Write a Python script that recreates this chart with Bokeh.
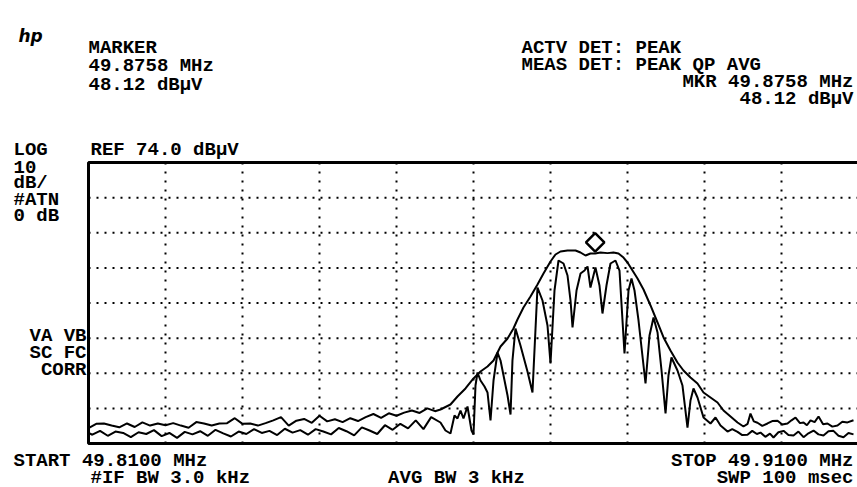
from bokeh.plotting import figure
from bokeh.models import Range1d, Label
from bokeh.embed import file_html
from bokeh.resources import INLINE

# ---------------- data ----------------
START_MHZ = 49.8100
STOP_MHZ = 49.9100
REF_DBUV = 74.0
DB_PER_DIV = 10.0
N_DIV_Y = 8
MKR_MHZ = 49.8758
MKR_DBUV = 48.12
IF_BW_KHZ = 3.0
AVG_BW_KHZ = 3
SWP_MSEC = 100

x_grid_mhz = [49.82, 49.83, 49.84, 49.85, 49.86, 49.87, 49.88, 49.89, 49.90]
y_grid_dbuv = [64, 54, 44, 34, 24, 14, 4]

# trace 1: peak detector (upper envelope)
peak_mhz = [
    49.810, 49.811, 49.812, 49.813, 49.814, 49.815, 49.816, 49.817, 49.818, 49.819,
    49.820, 49.821, 49.822, 49.823, 49.824, 49.825, 49.826, 49.827, 49.828, 49.829,
    49.830, 49.831, 49.832, 49.833, 49.834, 49.835, 49.836, 49.837, 49.838, 49.839,
    49.840, 49.841, 49.842, 49.843, 49.844, 49.845, 49.846, 49.847, 49.848, 49.849,
    49.850, 49.851, 49.852, 49.853, 49.854, 49.855,
    49.85571, 49.85701, 49.85792, 49.85896, 49.86000, 49.86091, 49.86182, 49.86260,
    49.86351, 49.86442, 49.86519, 49.86571, 49.86649, 49.86740, 49.86831, 49.86909,
    49.87000, 49.87065, 49.87130, 49.87221, 49.87325, 49.87390, 49.87455, 49.87519,
    49.87580, 49.87649, 49.87740, 49.87818, 49.87883, 49.87948, 49.88000, 49.88065,
    49.88130, 49.88208, 49.88299, 49.88390, 49.88468, 49.88558, 49.88649, 49.88727,
    49.88818, 49.88909, 49.88987, 49.89078, 49.89169, 49.89247, 49.89338, 49.89429,
    49.89506, 49.89560, 49.89597, 49.89640, 49.89688, 49.89750, 49.89818, 49.89880,
    49.89948, 49.90010, 49.90078, 49.90130, 49.90182, 49.90240, 49.90286, 49.90330,
    49.90377, 49.90430, 49.90481, 49.90540, 49.90597, 49.90660, 49.90727, 49.90790,
    49.90857, 49.90935,
]
peak_dbuv = [
    -1.6, -0.4, -0.3, -0.9, -1.4, -0.3, -1.3, 0.0, -0.9, -0.3,
    -0.8, -0.2, -0.9, -1.5, 0.1, -0.3, -0.9, -0.3, -0.2, 1.2,
    -0.4, -0.3, -0.9, -0.2, 0.6, 1.5, -0.9, 0.5, 1.0, -0.1,
    1.9, 0.3, 0.9, 0.1, 1.2, 0.4, 1.5, 2.4, 1.3, 2.6,
    1.9, 2.8, 3.4, 2.7, 4.0, 3.2,
    3.68, 5.10, 7.38, 9.66, 12.51, 14.50, 15.92, 17.63,
    21.62, 23.89, 26.74, 29.30, 32.72, 35.85, 39.27, 42.40,
    45.81, 47.81, 48.66, 48.95, 48.95, 48.38, 47.52, 48.09,
    48.12, 48.38, 48.20, 48.38, 48.09, 46.95, 45.53, 43.25,
    40.97, 37.84, 33.29, 28.45, 24.18, 20.48, 17.06, 14.78,
    12.79, 11.08, 8.52, 7.10, 5.67, 3.40, 1.69, -0.02,
    -1.16, -0.4, 2.5, 0.3, -0.1, -1.0, -0.3, 0.4,
    0.5, -0.6, -0.3, 0.6, 1.4, -0.2, 0.0, -0.8,
    0.6, 0.1, 1.7, -0.5, -0.3, -1.2, -0.9, 0.2,
    0.0, 0.6,
]

# trace 2: quasi-peak / average detector (notched trace)
qp_mhz = [
    49.8100, 49.8105, 49.8115, 49.8125, 49.8135, 49.8145, 49.8155, 49.8165, 49.8175,
    49.8185, 49.8195, 49.8205, 49.8215, 49.8225, 49.8235, 49.8245, 49.8255, 49.8265,
    49.8275, 49.8285, 49.8295, 49.8305, 49.8315, 49.8325, 49.8335, 49.8345, 49.8355,
    49.8365, 49.8375, 49.8385, 49.8395, 49.8405, 49.8415, 49.8425, 49.8435, 49.8445,
    49.8455, 49.8465, 49.8475, 49.8485, 49.8495, 49.8505, 49.8515, 49.8525, 49.8535,
    49.8545,
    49.85571, 49.85636, 49.85701, 49.85753, 49.85792, 49.85831, 49.85870, 49.85922,
    49.85974, 49.86000, 49.86026, 49.86052, 49.86091, 49.86143, 49.86182, 49.86221,
    49.86260, 49.86312, 49.86351, 49.86390, 49.86442, 49.86481, 49.86506, 49.86545,
    49.86610, 49.86701, 49.86766, 49.86831, 49.86896, 49.86961, 49.87000, 49.87052,
    49.87104, 49.87169, 49.87221, 49.87260, 49.87286, 49.87338, 49.87390, 49.87442,
    49.87481, 49.87519, 49.87584, 49.87636, 49.87675, 49.87727, 49.87779, 49.87844,
    49.87896, 49.87961, 49.88013, 49.88052, 49.88091, 49.88143, 49.88234, 49.88286,
    49.88338, 49.88390, 49.88442, 49.88494, 49.88532, 49.88571, 49.88649, 49.88714,
    49.88779, 49.88818, 49.88857, 49.88909, 49.88987, 49.89078, 49.89143, 49.89208,
    49.89299, 49.89360, 49.89429, 49.89490, 49.89558, 49.89620, 49.89680, 49.89727,
    49.89790, 49.89850, 49.89896, 49.89960, 49.90026, 49.90090, 49.90156, 49.90220,
    49.90286, 49.90350, 49.90416, 49.90480, 49.90545, 49.90610, 49.90675, 49.90740,
    49.90805, 49.90870, 49.90935,
]
qp_dbuv = [
    -3.0, -3.5, -2.4, -3.8, -2.6, -3.0, -4.2, -2.8, -3.3,
    -2.2, -3.9, -3.0, -4.4, -2.7, -3.4, -2.5, -3.8, -2.1,
    -3.1, -4.0, -2.6, -3.3, -1.9, -3.0, -2.4, -3.6, -1.8,
    -2.9, -2.2, -3.5, -1.9, -2.6, -3.4, -1.6, -2.5, -3.7,
    -1.4, -2.3, -3.3, -0.8, -2.1, -0.4, -1.7, 0.6, -1.9,
    1.5,
    -0.02, -2.30, -3.15, 1.97, 1.12, 3.40, 1.12, 4.53,
    -2.30, -3.44, 10.51, 14.21, 11.94, 10.23, 8.52, 0.55,
    11.94, 19.91, 17.63, 13.36, 7.67, 2.26, 17.63, 26.74,
    21.90, 14.50, 8.52, 38.41, 34.71, 27.59, 16.78, 37.56,
    46.10, 45.25, 41.83, 34.71, 27.02, 37.56, 42.40, 43.25,
    44.39, 38.41, 44.11, 38.98, 31.01, 38.98, 45.25, 46.10,
    43.25, 19.62, 37.56, 40.97, 37.56, 29.02, 11.08, 24.75,
    29.87, 25.60, 14.78, 2.54, 13.36, 18.48, 14.78, 10.51,
    -1.45, 6.24, 9.66, 7.10, 1.40, -0.31, 1.40, -0.88,
    -2.6, -1.9, -2.7, -3.6, -3.5, -2.4, -3.3, -2.9,
    -4.1, -3.2, -4.3, -2.8, -2.4, -3.6, -3.7, -2.6,
    -4.2, -3.1, -2.3, -3.4, -3.7, -2.5, -2.4, -3.8,
    -4.2, -3.0, -3.4,
]

# ---------------- layout / style ----------------
FIG_W, FIG_H = 857, 487
BOX_LEFT_PX, BOX_TOP_PX = 88, 162          # screen position of the graticule
PX_PER_MHZ = 7700.0                         # 77 px per 10 kHz division
PX_PER_DB = 3.5125                          # 35.1 px per 10 dB division
Y_BOTTOM = REF_DBUV - N_DIV_Y * DB_PER_DIV
MARKER_LIFT_PX = 11
FONT = "Liberation Mono"
FS = "19px"


def to_mhz(X):
    return START_MHZ + (X - BOX_LEFT_PX) / PX_PER_MHZ


def to_db(Y):
    return REF_DBUV - (Y - BOX_TOP_PX) / PX_PER_DB


p = figure(width=FIG_W, height=FIG_H, output_backend="svg", toolbar_location=None,
           x_range=Range1d(to_mhz(0), to_mhz(FIG_W)),
           y_range=Range1d(to_db(FIG_H), to_db(0)),
           min_border=0, min_border_left=0, min_border_right=0,
           min_border_top=0, min_border_bottom=0)
p.xaxis.visible = False
p.yaxis.visible = False
p.grid.visible = False
p.outline_line_color = None
p.background_fill_color = "white"
p.border_fill_color = "white"

# graticule (dotted) and frame
p.segment(x0=x_grid_mhz, x1=x_grid_mhz, y0=[Y_BOTTOM] * len(x_grid_mhz),
          y1=[REF_DBUV] * len(x_grid_mhz), line_color="black", line_width=2,
          line_dash="2 7")
p.segment(x0=[START_MHZ] * len(y_grid_dbuv), x1=[STOP_MHZ] * len(y_grid_dbuv),
          y0=y_grid_dbuv, y1=y_grid_dbuv, line_color="black", line_width=2,
          line_dash="2 6")
p.quad(left=[START_MHZ], right=[STOP_MHZ], bottom=[Y_BOTTOM], top=[REF_DBUV],
       fill_color=None, line_color="black", line_width=3)

p.line(qp_mhz, qp_dbuv, line_color="black", line_width=2)
p.line(peak_mhz, peak_dbuv, line_color="black", line_width=2)

p.scatter([MKR_MHZ], [MKR_DBUV + MARKER_LIFT_PX / PX_PER_DB], marker="square",
          angle=0.785398, size=13, fill_color="white", line_color="black", line_width=2.5)


def add_text(txt, X, Y, align="left", font=FONT, size=FS, style="bold"):
    p.add_layout(Label(x=to_mhz(X), y=to_db(Y), text=txt, text_font=font,
                       text_font_size=size, text_font_style=style, text_align=align,
                       text_baseline="alphabetic", text_color="black"))


mkr_f = f"{MKR_MHZ:.4f} MHz"
mkr_a = f"{MKR_DBUV:.2f} dBµV"
add_text("hp", 18, 35, font="DejaVu Sans", size="17px", style="bold italic")
add_text("MARKER", 88, 47)
add_text(mkr_f, 88, 65)
add_text(mkr_a, 88, 84)
add_text("ACTV DET: PEAK", 521, 47)
add_text("MEAS DET: PEAK QP AVG", 521, 64)
add_text("MKR " + mkr_f, 853, 81, "right")
add_text(mkr_a, 853, 98, "right")
add_text("LOG", 13, 149)
add_text(f"REF {REF_DBUV:.1f} dBµV", 90, 149)
add_text(f"{DB_PER_DIV:.0f}", 13, 166)
add_text("dB/", 13, 182)
add_text("#ATN", 13, 199)
add_text("0 dB", 13, 215)
add_text("VA VB", 86, 335, "right")
add_text("SC FC", 86, 352, "right")
add_text("CORR", 86, 369, "right")
add_text(f"START {START_MHZ:.4f} MHz", 13, 460)
add_text(f"STOP {STOP_MHZ:.4f} MHz", 853, 460, "right")
add_text(f"#IF BW {IF_BW_KHZ:.1f} kHz", 90, 477)
add_text(f"AVG BW {AVG_BW_KHZ} kHz", 456, 477, "center")
add_text(f"SWP {SWP_MSEC} msec", 853, 477, "right")

open("out.html", "w").write(file_html(p, INLINE))
